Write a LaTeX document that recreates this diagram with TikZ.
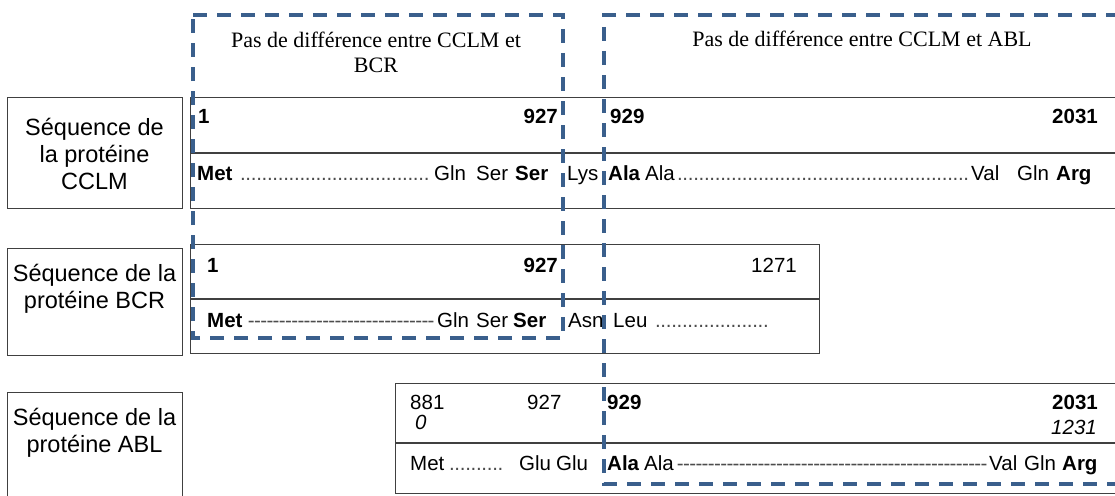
\documentclass[tikz,border=0pt]{standalone}
\usepackage{fontspec}
\setmainfont{Liberation Sans}
\newfontfamily\hdrfont{Liberation Serif}
\definecolor{dashblue}{RGB}{58,95,140}
\newcommand{\dotrun}[1]{\hbox to #1pt{\leaders\hbox to 5.4pt{\hss.\hss}\hfill}}
\newcommand{\hyphrun}[1]{\hbox to #1pt{\leaders\hbox to 6.2pt{\hss-\hss}\hfill}}
\begin{document}
\begin{tikzpicture}[x=1pt,y=-1pt,
  boxline/.style={draw=black!75, line width=1.3pt},
  frame/.style={boxline, inner sep=0pt, anchor=north west},
  lab/.style={font=\fontsize{23.5}{27}\selectfont, inner sep=0pt, anchor=base},
  hdr/.style={font=\hdrfont\fontsize{22}{24}\selectfont, inner sep=0pt, anchor=base},
  sq/.style={font=\fontsize{20.5}{24}\selectfont, inner sep=0pt, anchor=base west},
  sqr/.style={sq, anchor=base east},
  leader/.style={sq, text=black!70},
  bluedash/.style={draw=dashblue, line width=3.5pt, dash pattern=on 14pt off 10pt}]
\useasboundingbox (0,0) rectangle (1115,495);

% label boxes
\node[frame, minimum width=175pt, minimum height=111pt] (lcclm) at (7,97) {};
\node[frame, minimum width=175pt, minimum height=107pt] (lbcr) at (7,248) {};
\node[frame, minimum width=175pt, minimum height=110pt] (labl) at (7,392) {};

\node[lab] (lc1) at (94.5,135) {Séquence de};
\node[lab] (lc2) at (94.5,162) {la protéine};
\node[lab] (lc3) at (94.5,189) {CCLM};
\node[lab] (lb1) at (94.5,281) {Séquence de la};
\node[lab] (lb2) at (94.5,308) {protéine BCR};
\node[lab] (la1) at (94.5,425) {Séquence de la};
\node[lab] (la2) at (94.5,452) {protéine ABL};

% sequence boxes
\node[frame, minimum width=935pt, minimum height=111pt] (scclm) at (190,97) {};
\coordinate (dc1) at (190,153); \coordinate (dc2) at (1120,153);
\draw[boxline] (dc1) -- (dc2);
\node[frame, minimum width=629pt, minimum height=109pt] (sbcr) at (190,244) {};
\coordinate (db1) at (190,299); \coordinate (db2) at (819,299);
\draw[boxline] (db1) -- (db2);
\node[frame, minimum width=730pt, minimum height=110pt] (sabl) at (395,383) {};
\coordinate (da1) at (395,443); \coordinate (da2) at (1125,443);
\draw[boxline] (da1) -- (da2);

% headers
\node[hdr] (h1a) at (376,48) {Pas de différence entre CCLM et};
\node[hdr] (h1b) at (376,72) {BCR};
\node[hdr] (h2) at (862,47) {Pas de différence entre CCLM et ABL};

% CCLM row 1
\node[sq] (c1) at (198,123) {\bfseries 1};
\node[sqr] (c927) at (558,123) {\bfseries 927};
\node[sq] (c929) at (610,123) {\bfseries 929};
\node[sqr] (c2031) at (1098,123) {\bfseries 2031};
% CCLM row 2
\node[sq] (cm) at (197,180) {\bfseries Met};
\node[leader] (cd1) at (240,180) {\dotrun{192}};
\node[sq] (cg) at (434,180) {Gln};
\node[sq] (cs1) at (476,180) {Ser};
\node[sq] (cs2) at (515,180) {\bfseries Ser};
\node[sq] (cl) at (567,180) {Lys};
\node[sq] (ca1) at (608,180) {\bfseries Ala};
\node[sq] (ca2) at (645,180) {Ala};
\node[leader] (cd2) at (677,180) {\dotrun{292}};
\node[sq] (cv) at (971,180) {Val};
\node[sq] (cg2) at (1017,180) {Gln};
\node[sq] (car) at (1056,180) {\bfseries Arg};

% BCR row 1
\node[sq] (b1) at (207,272) {\bfseries 1};
\node[sqr] (b927) at (558,272) {\bfseries 927};
\node[sqr] (b1271) at (797,272) {1271};
% BCR row 2
\node[sq] (bm) at (207,327) {\bfseries Met};
\node[leader] (bd1) at (248,327) {\hyphrun{186}};
\node[sq] (bg) at (437,327) {Gln};
\node[sq] (bs1) at (476,327) {Ser};
\node[sq] (bs2) at (513,327) {\bfseries Ser};
\node[sq] (ba) at (568,327) {Asn};
\node[sq] (bl) at (613,327) {Leu};
\node[leader] (bd2) at (655,327) {\dotrun{116}};

% ABL row 1
\node[sq] (a881) at (410,409) {881};
\node[sq] (a0) at (415,429) {\itshape 0};
\node[sq] (a927) at (527,409) {927};
\node[sq] (a929) at (607,409) {\bfseries 929};
\node[sqr] (a2031) at (1098,409) {\bfseries 2031};
\node[sqr] (a1231) at (1097,434) {\itshape 1231};
% ABL row 2
\node[sq] (am) at (410,470) {Met};
\node[leader] (ad1) at (449,470) {\dotrun{57}};
\node[sq] (ag1) at (519,470) {Glu};
\node[sq] (ag2) at (556,470) {Glu};
\node[sq] (aa1) at (607,470) {\bfseries Ala};
\node[sq] (aa2) at (644,470) {Ala};
\node[leader] (ad2) at (677,470) {\hyphrun{310}};
\node[sq] (av) at (989,470) {Val};
\node[sq] (ag3) at (1024,470) {Gln};
\node[sq] (aar) at (1062,470) {\bfseries Arg};

% dashed regions
\coordinate (p1) at (193,15); \coordinate (p2) at (563,15);
\coordinate (p3) at (563,338); \coordinate (p4) at (193,338);
\draw[bluedash] (p1) -- (p2) -- (p3) -- (p4) -- cycle;
\coordinate (q1) at (1120,15); \coordinate (q2) at (604,15);
\coordinate (q3) at (604,484); \coordinate (q4) at (1120,484);
\draw[bluedash] (q1) -- (q2) -- (q3) -- (q4);
\end{tikzpicture}
\end{document}
